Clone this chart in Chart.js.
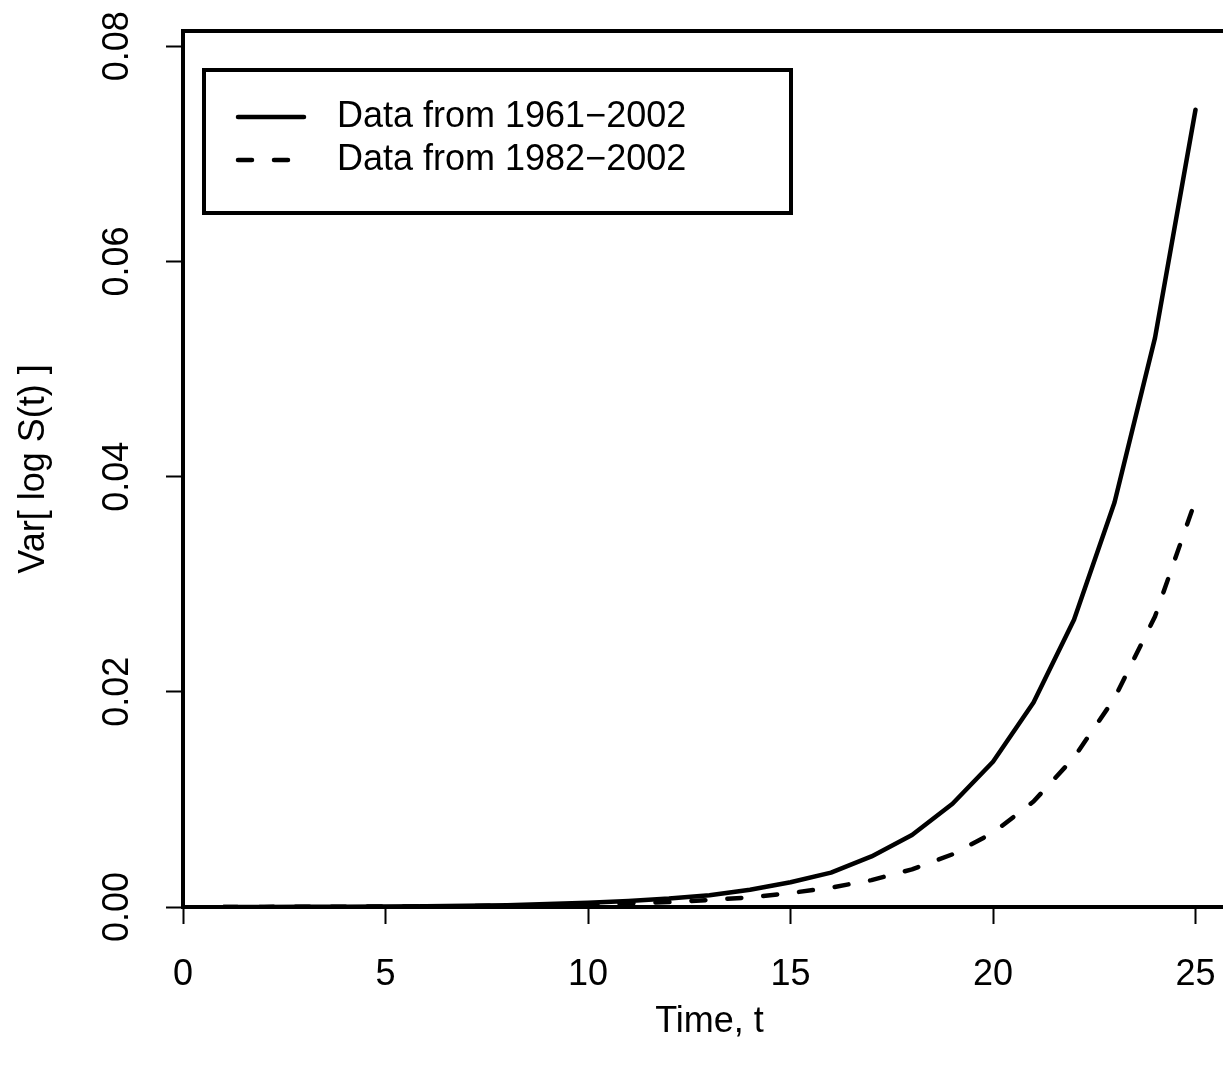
<!DOCTYPE html>
<html><head><meta charset="utf-8">
<script src="https://cdn.jsdelivr.net/npm/chart.js@4"></script>
<style>html,body{margin:0;padding:0;overflow:hidden;background:#fff;} canvas{display:block;}</style>
</head><body>
<canvas id="c" width="1240" height="1082"></canvas>
<script>
const times = [1,2,3,4,5,6,7,8,9,10,11,12,13,14,15,16,17,18,19,20,21,22,23,24,25];
const var1961 = [0.00001,0.00001,0.00002,0.00003,0.00005,0.00007,0.00011,0.00016,0.00027,0.00039,0.00055,0.00078,0.0011,0.0016,0.0023,0.0032,0.0047,0.0067,0.0096,0.0135,0.0190,0.0267,0.0376,0.0529,0.0741];
const var1982 = [0.00001,0.00001,0.00002,0.00003,0.00004,0.00006,0.00009,0.00012,0.00017,0.00024,0.00033,0.00046,0.00065,0.0009,0.0013,0.0018,0.0025,0.0035,0.0049,0.0069,0.0098,0.0139,0.0194,0.0270,0.0378];
const xTicks = [0,5,10,15,20,25];
const yTicks = [0,0.02,0.04,0.06,0.08];
const seriesLabels = ['Data from 1961\u22122002','Data from 1982\u22122002'];
const xTitle = 'Time, t';
const yTitle = 'Var[ log S(t) ]';

const FONT = '"Liberation Sans", Arial, Helvetica, sans-serif';
const FS = 36;
const DASH = [14, 22];

const toPts = (ys) => times.map((t, i) => ({x: t, y: ys[i]}));

const framePlugin = {
  id: 'frameAndLegend',
  afterDraw(chart) {
    const {ctx, chartArea: a} = chart;
    ctx.save();
    ctx.strokeStyle = '#000';
    ctx.lineWidth = 4;
    ctx.strokeRect(a.left, a.top, a.right - a.left, a.bottom - a.top);
    // legend
    const bx = 204, by = 70, bw = 587, bh = 143;
    ctx.lineWidth = 4;
    ctx.strokeRect(bx, by, bw, bh);
    const rows = [117, 160];
    chart.data.datasets.forEach((ds, i) => {
      const y = rows[i];
      ctx.beginPath();
      ctx.lineWidth = ds.borderWidth;
      ctx.lineCap = 'round';
      ctx.setLineDash(ds.borderDash || []);
      ctx.moveTo(238, y);
      ctx.lineTo(304, y);
      ctx.stroke();
      ctx.setLineDash([]);
      ctx.fillStyle = '#000';
      ctx.font = FS + 'px ' + FONT;
      ctx.textBaseline = 'middle';
      ctx.textAlign = 'left';
      ctx.fillText(ds.label, 337, y);
    });
    ctx.restore();
  }
};

const zeroPad = s => { s.paddingLeft = 0; s.paddingRight = 0; s.paddingTop = 0; s.paddingBottom = 0; };

new Chart(document.getElementById('c'), {
  type: 'line',
  data: {
    datasets: [
      {label: seriesLabels[0], data: toPts(var1961), borderColor: '#000', borderWidth: 4.5, pointRadius: 0, tension: 0, fill: false, borderCapStyle: 'round', borderJoinStyle: 'round'},
      {label: seriesLabels[1], data: toPts(var1982), borderColor: '#000', borderWidth: 4.5, borderDash: DASH, pointRadius: 0, tension: 0, fill: false, borderCapStyle: 'round', borderJoinStyle: 'round'}
    ]
  },
  options: {
    responsive: false,
    animation: false,
    layout: {padding: {top: 31, right: 4, left: 0, bottom: 0}},
    plugins: {legend: {display: false}, tooltip: {enabled: false}},
    scales: {
      x: {
        type: 'linear', min: 0, max: 26,
        afterBuildTicks: s => { s.ticks = xTicks.map(v => ({value: v})); },
        afterFit: s => { s.height = 175; zeroPad(s); },
        grid: {drawOnChartArea: false, drawTicks: true, tickLength: 17, tickWidth: 2, tickColor: '#000', color: '#000'},
        border: {display: false},
        ticks: {color: '#000', font: {family: FONT, size: FS}, padding: 29, maxRotation: 0, minRotation: 0, autoSkip: false, callback: v => String(v)},
        title: {display: true, text: xTitle, color: '#000', font: {family: FONT, size: FS}, padding: {top: 0, bottom: 38}}
      },
      y: {
        type: 'linear', min: 0, max: 0.08142,
        afterBuildTicks: s => { s.ticks = yTicks.map(v => ({value: v})); },
        afterFit: s => { s.width = 183; zeroPad(s); },
        grid: {drawOnChartArea: false, drawTicks: true, tickLength: 17, tickWidth: 2, tickColor: '#000', color: '#000'},
        border: {display: false},
        ticks: {color: '#000', font: {family: FONT, size: FS}, padding: 13, minRotation: 90, maxRotation: 90, crossAlign: 'center', autoSkip: false, callback: v => Number(v).toFixed(2)},
        title: {display: true, text: yTitle, color: '#000', font: {family: FONT, size: FS}, padding: {top: 12, bottom: 0}}
      }
    }
  },
  plugins: [framePlugin]
});
</script>
</body></html>
